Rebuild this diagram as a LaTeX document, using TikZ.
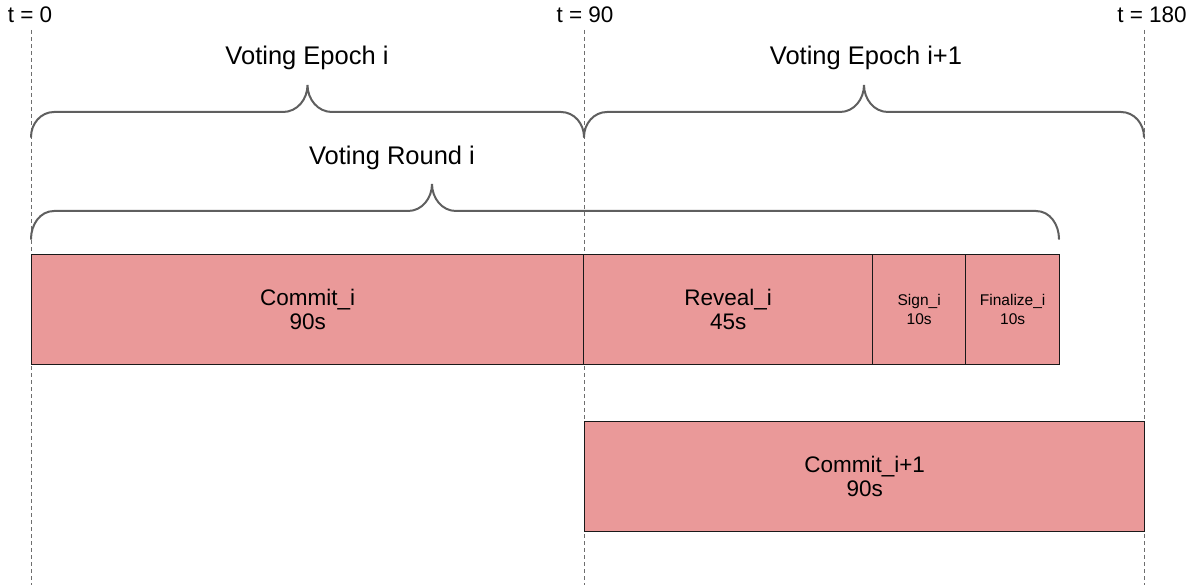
\documentclass[tikz,border=0pt]{standalone}
\usepackage{fontspec}
\setmainfont{Liberation Sans}
\definecolor{boxred}{RGB}{234,153,153}
\definecolor{bracegray}{RGB}{95,95,95}
\definecolor{dashgray}{RGB}{110,110,110}
\begin{document}
\begin{tikzpicture}[x=1pt,y=-1pt,
  box/.style={draw=black!90, line width=1.3pt, fill=boxred, anchor=north west, inner sep=0pt,
    align=center, font=\fontsize{22.5}{24.5}\selectfont},
  smallbox/.style={box, font=\fontsize{15.5}{19}\selectfont},
  tlabel/.style={font=\fontsize{22.5}{25}\selectfont, inner sep=0pt},
  blabel/.style={font=\fontsize{25.5}{28}\selectfont, inner sep=0pt},
  timeline/.style={draw=dashgray, line width=0.8pt, dash pattern=on 4pt off 3pt},
  bracestyle/.style={draw=bracegray, line width=2pt, line cap=round}
]
\useasboundingbox (0,0) rectangle (1190,585);

% time labels
\node[tlabel] (t0) at (30,15) {t = 0};
\node[tlabel] (t90) at (585,15) {t = 90};
\node[tlabel] (t180) at (1152,15) {t = 180};
\coordinate (d0a) at (31,30);   \coordinate (d0b) at (31,585);
\coordinate (d90a) at (584,30); \coordinate (d90b) at (584,585);
\coordinate (d180a) at (1144,30); \coordinate (d180b) at (1144,585);
\draw[timeline] (d0a) -- (d0b);
\draw[timeline] (d90a) -- (d90b);
\draw[timeline] (d180a) -- (d180b);

% brace labels
\node[blabel] (ep1) at (307,58) {Voting Epoch i};
\node[blabel] (ep2) at (866,58) {Voting Epoch i+1};
\node[blabel] (rnd) at (392,158) {Voting Round i};

% braces
\draw[bracestyle] (31,137) to[out=90,in=180] (54,112) -- (283,112)
  to[out=0,in=-90] (307.5,85) to[out=-90,in=180] (332,112) -- (561,112)
  to[out=0,in=90] (584,137);
\draw[bracestyle] (584,137) to[out=90,in=180] (607,112) -- (840,112)
  to[out=0,in=-90] (864,85) to[out=-90,in=180] (888,112) -- (1121,112)
  to[out=0,in=90] (1144,137);
\draw[bracestyle] (31,239) to[out=90,in=180] (54,211) -- (408,211)
  to[out=0,in=-90] (432,184) to[out=-90,in=180] (456,211) -- (1036,211)
  to[out=0,in=90] (1059,239);

% boxes
\node[box, minimum width=552pt, minimum height=110pt] (commit) at (31,254) {Commit\_i\\90s};
\node[box, minimum width=289pt, minimum height=110pt] (reveal) at (583,254) {Reveal\_i\\45s};
\node[smallbox, minimum width=93pt, minimum height=110pt] (sign) at (872,254) {Sign\_i\\10s};
\node[smallbox, minimum width=94pt, minimum height=110pt] (final) at (965,254) {Finalize\_i\\10s};
\node[box, minimum width=560pt, minimum height=110pt] (commit2) at (584,421) {Commit\_i+1\\90s};
\end{tikzpicture}
\end{document}
